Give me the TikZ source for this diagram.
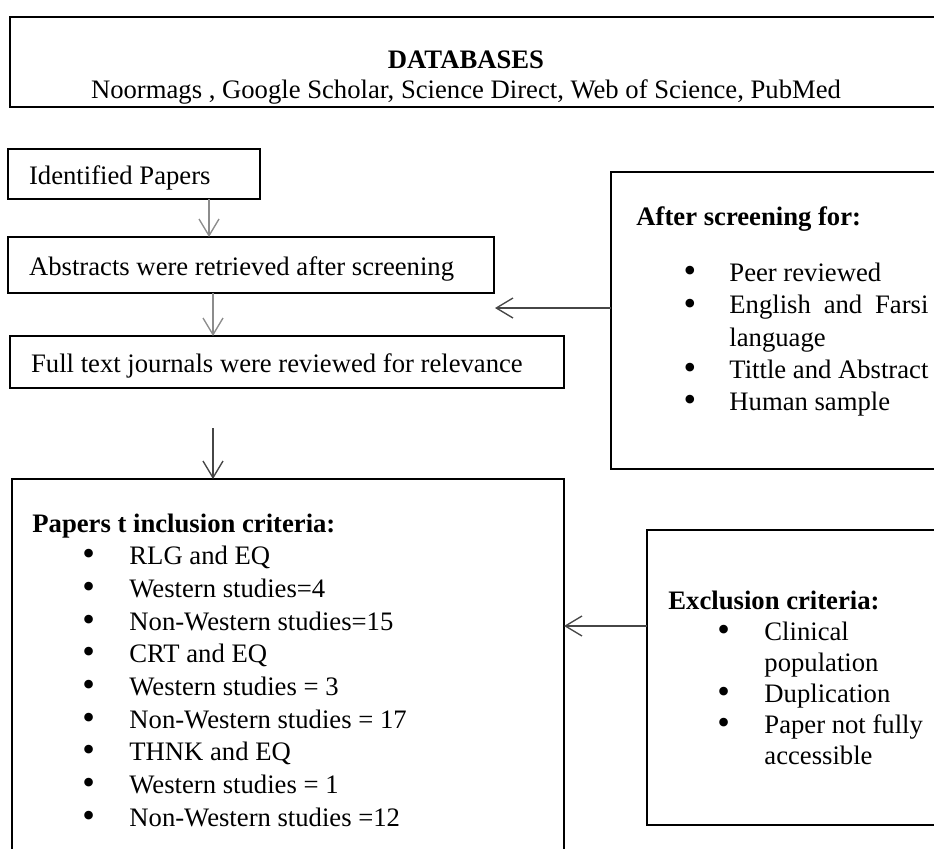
\documentclass[tikz,border=0pt]{standalone}
\usepackage{fontspec}
\setmainfont{Liberation Serif}
\usetikzlibrary{arrows.meta}
\definecolor{lineGrey}{RGB}{140,140,140}
\definecolor{lineDark}{RGB}{70,70,70}
\newlength\bulOff
\newlength\txtOff
\newcommand{\setbullets}[2]{\setlength\bulOff{#1}\setlength\txtOff{#2}\hyphenpenalty=10000}
\newcommand{\critem}[1]{\par\hangindent=\txtOff\hangafter=1\noindent\makebox[\txtOff][l]{\hspace{\bulOff}\smash{\raisebox{-0.5pt}{\scalebox{1.35}{\textbullet}}}}#1}
\tikzstyle{fFrame} = [rectangle, draw=black, line width=1.2pt, anchor=north west, inner sep=0pt, outer sep=0pt]
\tikzstyle{fBox} = [rectangle, draw=black, line width=1.2pt, anchor=north west, inner xsep=9.5pt, inner ysep=0pt, outer sep=0pt, align=flush left, text height=9.2pt, text depth=0pt, font=\fontsize{12}{14.5}\selectfont]
\tikzstyle{fText} = [inner sep=0pt, font=\fontsize{12}{13.5}\selectfont]
\tikzstyle{fList} = [anchor=base west, inner sep=0pt, font=\fontsize{12}{14.5}\selectfont]
\tikzstyle{fArrow} = [line width=0.7pt, draw=lineGrey, -{Straight Barb[length=7.5pt,width=9pt,line width=0.6pt]}]
\tikzstyle{fArrowDark} = [line width=0.7pt, draw=lineDark, -{Straight Barb[length=7.5pt,width=9pt,line width=0.6pt]}]

\begin{document}
\begin{tikzpicture}[x=0.45pt, y=-0.45pt]
    \useasboundingbox (0,0) rectangle (934,849);
    \clip (0,0) rectangle (934,849);

    % boxes
    \node (databases) [fFrame, minimum width=427.5pt, minimum height=40.5pt] at (10,17) {};
    \node (dbText) [fText, align=flush center] at (466,78) {\textbf{DATABASES}\\Noormags , Google Scholar, Science Direct, Web of Science, PubMed};
    \node (identified) [fBox, text width=94.4pt, minimum height=22.5pt] at (8,149) {Identified Papers};
    \node (abstracts) [fBox, text width=199.7pt, minimum height=25.2pt] at (8,237) {Abstracts were retrieved after screening};
    \node (fullText) [fBox, text width=230.3pt, minimum height=23.4pt] at (10,336) {Full text journals were reviewed for relevance};
    \node (screening) [fFrame, minimum width=157pt, minimum height=133.65pt] at (611,172) {};
    \node (inclusion) [fFrame, minimum width=248.4pt, minimum height=189.45pt] at (12,479) {};
    \node (exclusion) [fFrame, minimum width=140.85pt, minimum height=132.75pt] at (647,530) {};

    % lists
    \node (screeningText) [fList, text width=131.4pt, align=justify] at (636,225) {\setbullets{21.2pt}{41.85pt}%
        \textbf{After screening for:}\par\vspace{11pt}%
        \critem{Peer reviewed}\critem{English and Farsi language}\critem{Tittle and Abstract}\critem{Human sample}\par};
    \node (inclusionText) [fList, text width=220pt, align=flush left, font=\fontsize{12}{14.7}\selectfont] at (32,532) {\setbullets{22.5pt}{43.65pt}%
        \textbf{Papers t inclusion criteria:}%
        \critem{RLG and EQ}\critem{Western studies=4}\critem{Non-Western studies=15}%
        \critem{CRT and EQ}\critem{Western studies = 3}\critem{Non-Western studies = 17}%
        \critem{THNK and EQ}\critem{Western studies = 1}\critem{Non-Western studies =12}\par};
    \node (exclusionText) [fList, text width=119.2pt, align=flush left, font=\fontsize{12}{14}\selectfont] at (668,609) {\setbullets{22pt}{43.2pt}%
        \textbf{Exclusion criteria:}%
        \critem{Clinical population}\critem{Duplication}\critem{Paper not fully accessible}\par};

    % arrows
    \coordinate (colA) at (209,0);
    \coordinate (colB) at (213,0);
    \coordinate (gapStart) at (213,428);
    \coordinate (screenTip) at (495,308);
    \coordinate (exclLevel) at (600,626);
    \draw [fArrow] (identified.south -| colA) -- (abstracts.north -| colA);
    \draw [fArrow] (abstracts.south -| colB) -- (fullText.north -| colB);
    \draw [fArrowDark] (gapStart) -- (inclusion.north -| gapStart);
    \draw [fArrowDark] (screening.west |- screenTip) -- (screenTip);
    \draw [fArrowDark] (exclusion.west |- exclLevel) -- (inclusion.east |- exclLevel);
\end{tikzpicture}
\end{document}
